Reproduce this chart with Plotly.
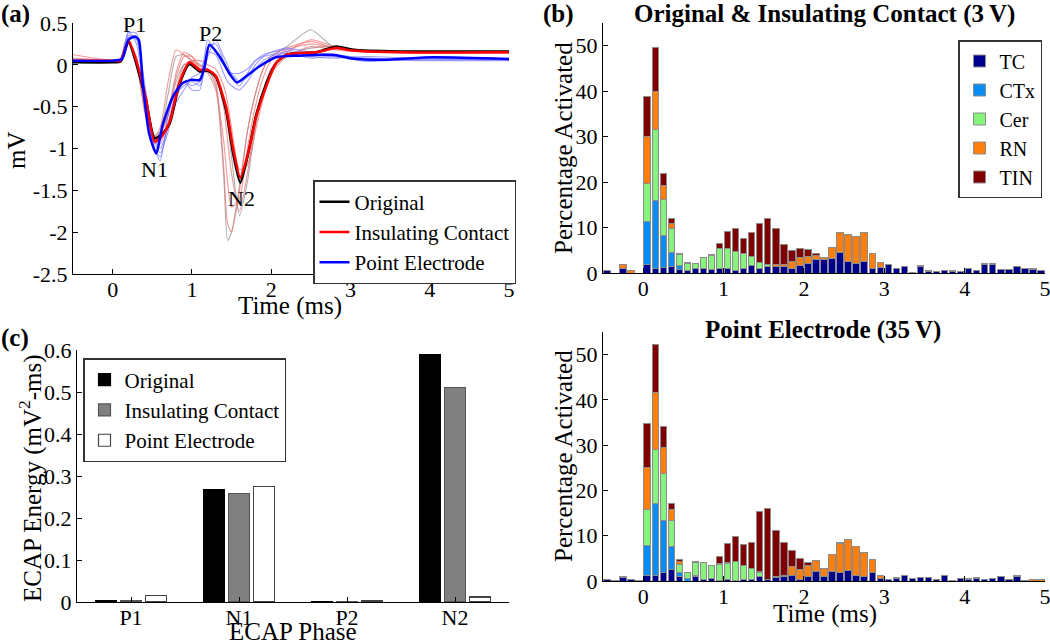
import numpy as np
import plotly.graph_objects as go

W, H = 1050, 644
FONT = "Liberation Serif"

# ---------------- Panel (a): ECAP waveforms ----------------
T_ORIG = [-0.5, 0.0, 0.1, 0.2, 0.32, 0.42, 0.53, 0.63, 0.72, 0.84, 0.97, 1.1, 1.2, 1.3,
          1.43, 1.52, 1.61, 1.71, 1.81, 1.94, 2.06, 2.19, 2.36, 2.57, 2.82, 3.03, 3.62, 5.0]
V_ORIG = [0.03, 0.03, 0.04, 0.28, -0.06, -0.42, -0.88, -0.82, -0.7, -0.24, 0.01, -0.08, -0.07, -0.14,
          -0.54, -1.06, -1.41, -1.06, -0.6, -0.22, 0.02, 0.12, 0.14, 0.15, 0.22, 0.18, 0.16, 0.16]
V_INS = [0.05, 0.05, 0.05, 0.29, -0.02, -0.40, -0.92, -0.84, -0.68, -0.22, 0.03, -0.06, -0.06, -0.13,
         -0.5, -1.0, -1.35, -1.05, -0.62, -0.25, 0.02, 0.12, 0.14, 0.15, 0.2, 0.17, 0.15, 0.15]
T_PT = [-0.5, 0.0, 0.12, 0.2, 0.28, 0.33, 0.38, 0.46, 0.55, 0.63, 0.76, 0.88, 0.99, 1.1,
        1.16, 1.22, 1.35, 1.47, 1.57, 1.68, 1.85, 2.06, 2.36, 2.78, 2.99, 3.41, 4.04, 5.0]
V_PT = [0.05, 0.05, 0.07, 0.3, 0.34, 0.3, -0.22, -0.82, -1.06, -0.72, -0.38, -0.22, -0.18, -0.18,
        -0.02, 0.24, 0.1, -0.1, -0.21, -0.14, -0.02, 0.09, 0.11, 0.12, 0.08, 0.06, 0.09, 0.07]

T_THIN = [-0.5, 0.0, 0.1, 0.15, 0.2, 0.3, 0.4, 0.5, 0.6, 0.7, 0.8, 0.9, 1.0, 1.1, 1.2, 1.3,
          1.4, 1.45, 1.5, 1.6, 1.7, 1.8, 1.9, 2.0, 2.2, 2.5, 2.8, 3.2, 4.0, 5.0]
RED_THIN = [
    [0.12, 0.05, 0.05, 0.2, 0.3, 0.05, -0.55, -0.9, -0.75, -0.2, 0.18, 0.12, 0.05, -0.02, -0.05, -0.2,
     -1.2, -1.9, -2.0, -1.5, -0.8, -0.35, -0.05, 0.1, 0.2, 0.28, 0.2, 0.15, 0.15, 0.15],
    [0.05, 0.04, 0.05, 0.18, 0.28, 0.1, -0.4, -0.85, -0.85, -0.55, -0.15, 0.1, 0.1, 0.0, -0.05, -0.15,
     -0.5, -0.9, -1.3, -1.75, -1.3, -0.7, -0.3, -0.05, 0.15, 0.3, 0.22, 0.16, 0.15, 0.15],
    [0.05, 0.04, 0.04, 0.15, 0.25, 0.0, -0.5, -0.95, -0.9, -0.7, -0.3, 0.0, 0.05, 0.05, 0.0, -0.05,
     -0.25, -0.45, -0.75, -1.25, -1.2, -0.8, -0.4, -0.1, 0.1, 0.22, 0.18, 0.15, 0.14, 0.14],
    [0.08, 0.05, 0.05, 0.2, 0.3, 0.0, -0.45, -0.8, -0.95, -0.6, -0.1, 0.15, 0.1, -0.05, -0.1, -0.3,
     -0.9, -1.4, -1.7, -1.6, -1.0, -0.5, -0.15, 0.05, 0.18, 0.25, 0.2, 0.17, 0.15, 0.15],
]
GRAY_THIN = [
    [0.05, 0.04, 0.05, 0.2, 0.28, 0.08, -0.5, -0.9, -0.8, -0.35, 0.1, 0.12, 0.05, 0.0, -0.05, -0.25,
     -1.3, -2.1, -2.0, -1.45, -0.8, -0.35, -0.05, 0.1, 0.22, 0.42, 0.2, 0.16, 0.15, 0.15],
    [0.04, 0.03, 0.04, 0.18, 0.26, 0.05, -0.45, -0.85, -0.8, -0.6, -0.2, 0.0, 0.0, -0.05, -0.08, -0.15,
     -0.4, -0.7, -1.1, -1.8, -1.4, -0.75, -0.35, -0.05, 0.12, 0.2, 0.22, 0.17, 0.16, 0.16],
]
BLUE_THIN = [
    [0.05, 0.05, 0.08, 0.25, 0.38, 0.38, -0.3, -0.9, -1.15, -0.6, -0.3, -0.2, -0.25, -0.2, 0.3, 0.15,
     0.0, -0.05, -0.1, -0.1, -0.05, 0.05, 0.12, 0.15, 0.18, 0.12, 0.1, 0.06, 0.05, 0.05],
    [0.04, 0.04, 0.06, 0.2, 0.33, 0.3, -0.2, -0.8, -1.0, -0.75, -0.45, -0.3, -0.15, -0.1, 0.15, 0.12,
     -0.1, -0.2, -0.25, -0.3, -0.2, -0.05, 0.05, 0.1, 0.14, 0.08, 0.1, 0.04, 0.08, 0.06],
    [0.06, 0.05, 0.07, 0.22, 0.35, 0.32, -0.25, -0.85, -1.05, -0.8, -0.4, -0.2, -0.3, -0.3, 0.2, 0.25,
     0.05, -0.05, -0.1, -0.2, -0.15, 0.0, 0.1, 0.15, 0.2, 0.15, 0.12, 0.08, 0.06, 0.07],
    [0.05, 0.05, 0.06, 0.22, 0.4, 0.25, -0.35, -0.95, -1.1, -0.7, -0.35, -0.25, -0.2, -0.25, 0.1, 0.3,
     0.1, 0.0, -0.15, -0.25, -0.1, 0.05, 0.1, 0.12, 0.16, 0.1, 0.08, 0.1, 0.07, 0.06],
]
PEAK_LABELS = ["P1", "N1", "P2", "N2"]
PEAK_T = [0.27, 0.53, 1.24, 1.62]
PEAK_V = [0.48, -1.25, 0.38, -1.6]

# ---------------- Panel (b): activation histograms ----------------
BIN_CENTERS = np.round(np.arange(-0.45, 5.0, 0.1), 2)
POPS = ["TC", "CTx", "Cer", "RN", "TIN"]
POP_COLORS = ["#00008F", "#0A8CF5", "#86F47C", "#FF7F0A", "#800000"]

A_TC = [0.5, 0, 0.9, 0, 0, 1.8, 0.9, 1.3, 1.5, 0.7, 0.6, 0.9, 0.9, 0.7, 1.1, 1.1, 0.6, 0.9, 1.7, 1.1,
        1.5, 1.5, 1.5, 0.9, 1.7, 2.2, 2.9, 2.9, 3.1, 4.6, 2.5, 2.2, 2.6, 0.9, 1.2, 1.8, 1.1, 1.5, 0.15, 1.5,
        0.4, 0.3, 0.5, 0.4, 0.4, 0.9, 0.5, 1.8, 1.8, 0.7, 0.7, 1.4, 0.9, 0.7, 0.5]
A_CTX = [0, 0, 0, 0, 0, 9.6, 15.1, 7.0, 3.0, 1.0] + [0] * 45
A_CER = [0, 0, 0, 0, 0, 8.4, 15.5, 7.8, 5.2, 2.3, 1.6, 1.1, 2.6, 3.1, 4.2, 4.4, 4.1, 3.3, 2.0, 1.2,
         0.3] + [0] * 34
A_RN = [0, 0, 0.9, 0.5, 0, 10.2, 8.5, 3.1, 1.1, 0.1, 0, 0, 0, 0, 0, 0, 0, 0.1, 0, 0,
        0, 0.3, 0.3, 1.7, 1.7, 1.5, 0.9, 0.6, 2.6, 4.3, 5.9, 5.9, 6.3, 3.3, 1.1, 0, 0, 0, 0, 0.2,
        0.2, 0, 0, 0.1, 0, 0, 0.1, 0, 0, 0, 0, 0, 0, 0.4, 0]
A_TIN = [0, 0, 0, 0, 0, 8.8, 9.6, 2.6, 1.3, 0.3, 0.1, 0, 0, 0.2, 1.2, 3.7, 5.0, 3.4, 5.2, 8.5,
         10.1, 7.9, 4.4, 2.4, 1.9, 1.4, 0.4, 0, 0, 0, 0, 0, 0, 0, 0, 0.1, 0, 0, 0, 0,
         0, 0, 0, 0, 0, 0, 0, 0.2, 0.2, 0, 0, 0, 0, 0, 0]

B_TC = [0.4, 0.2, 0.7, 0.3, 0.2, 1.2, 1.2, 1.8, 2.5, 1.0, 0, 0.9, 0.4, 0.5, 0.15, 0.3, 0.15, 0.4, 0.4, 0.9,
        0.4, 0.7, 0.9, 1.2, 0.4, 0.9, 2.0, 1.1, 2.1, 1.8, 2.3, 1.2, 1.1, 1.8, 0.5, 0.3, 0.5, 1.2, 0.6, 0.7,
        0.7, 0.3, 1.2, 0.15, 0.6, 0.3, 0.6, 0.3, 0.6, 1.0, 0.4, 1.0, 0.15, 0, 0]
B_CTX = [0, 0, 0, 0, 0, 6.6, 16.0, 11.5, 5.1, 0.8, 0.6, 0.3] + [0] * 43
B_CER = [0, 0, 0, 0, 0, 8.1, 11.8, 10.5, 5.7, 1.9, 1.2, 2.8, 3.6, 2.9, 3.55, 3.5, 4.05, 3.0, 2.3, 0.9] + [0] * 35
B_RN = [0, 0, 0.2, 0, 0, 9.2, 12.6, 5.7, 2.6, 0.5, 0, 0.2, 0, 0, 0.1, 0.2, 0, 0, 0, 0.2,
        0, 0.3, 0.3, 2.0, 2.1, 2.5, 2.6, 1.6, 3.8, 6.4, 6.8, 6.4, 5.1, 2.9, 0.7, 0, 0.2, 0, 0, 0,
        0, 0, 0.1, 0, 0, 0.3, 0.1, 0, 0, 0, 0, 0.2, 0, 0.3, 0.4]
B_TIN = [0, 0, 0, 0, 0, 9.7, 10.7, 4.7, 1.3, 0.5, 0, 0, 0, 0, 1.7, 4.2, 5.7, 4.6, 5.9, 13.4,
         15.7, 10.1, 7.2, 3.5, 2.4, 0.7, 0, 0, 0, 0.3] + [0] * 25

# ---------------- Panel (c): ECAP energy ----------------
PHASES = ["P1", "N1", "P2", "N2"]
E_ORIG = [0.003, 0.268, 0.002, 0.588]
E_INS = [0.003, 0.258, 0.002, 0.510]
E_PT = [0.016, 0.275, 0.004, 0.012]
CONFIGS = ["Original", "Insulating Contact", "Point Electrode"]
CONF_FILL = ["#000000", "#808080", "#FFFFFF"]
CONF_LINE = ["#000000", "#555555", "#444444"]


def px(x):
    return x / W


def py(y):
    return 1 - y / H


fig = go.Figure()

thin_style = dict(width=1.1, shape="spline", smoothing=0.6)
for v in GRAY_THIN:
    fig.add_trace(go.Scatter(x=T_THIN, y=v, mode="lines", line=dict(color="rgba(140,140,140,0.7)", **thin_style),
                             showlegend=False, hoverinfo="skip", xaxis="x", yaxis="y"))
for v in RED_THIN:
    fig.add_trace(go.Scatter(x=T_THIN, y=v, mode="lines", line=dict(color="rgba(238,110,110,0.7)", **thin_style),
                             showlegend=False, hoverinfo="skip", xaxis="x", yaxis="y"))
for v in BLUE_THIN:
    fig.add_trace(go.Scatter(x=T_THIN, y=v, mode="lines", line=dict(color="rgba(120,120,255,0.7)", **thin_style),
                             showlegend=False, hoverinfo="skip", xaxis="x", yaxis="y"))

fig.add_trace(go.Scatter(x=T_ORIG, y=V_ORIG, mode="lines", name="Original",
                         line=dict(color="black", width=2.5, shape="spline", smoothing=0.6),
                         xaxis="x", yaxis="y", legend="legend"))
fig.add_trace(go.Scatter(x=T_ORIG, y=V_INS, mode="lines", name="Insulating Contact",
                         line=dict(color="#FF0000", width=2.5, shape="spline", smoothing=0.6),
                         xaxis="x", yaxis="y", legend="legend"))
fig.add_trace(go.Scatter(x=T_PT, y=V_PT, mode="lines", name="Point Electrode",
                         line=dict(color="#0000FF", width=2.5, shape="spline", smoothing=0.6),
                         xaxis="x", yaxis="y", legend="legend"))

A_SERIES = [A_TC, A_CTX, A_CER, A_RN, A_TIN]
B_SERIES = [B_TC, B_CTX, B_CER, B_RN, B_TIN]
for name, col, vals in zip(POPS, POP_COLORS, A_SERIES):
    fig.add_trace(go.Bar(x=BIN_CENTERS, y=vals, name=name, width=0.08,
                         marker=dict(color=col, line=dict(color="#8C8C8C", width=1)),
                         xaxis="x2", yaxis="y2", legend="legend2"))
for name, col, vals in zip(POPS, POP_COLORS, B_SERIES):
    fig.add_trace(go.Bar(x=BIN_CENTERS, y=vals, name=name, width=0.08, showlegend=False,
                         marker=dict(color=col, line=dict(color="#8C8C8C", width=1)),
                         xaxis="x3", yaxis="y3"))

OFFSETS = [-0.23, 0.0, 0.23]
for name, fc, lc, vals, off in zip(CONFIGS, CONF_FILL, CONF_LINE, [E_ORIG, E_INS, E_PT], OFFSETS):
    fig.add_trace(go.Bar(x=[i + off for i in range(len(PHASES))], y=vals, name=name, width=0.19,
                         marker=dict(color=fc, line=dict(color=lc, width=1.2)),
                         xaxis="x4", yaxis="y4", legend="legend3"))

axis_common = dict(showline=True, linecolor="black", linewidth=1, ticks="inside", ticklen=5,
                   tickcolor="black", showgrid=False, zeroline=False, mirror=False, automargin=False,
                   ticklabeloverflow="allow",
                   tickfont=dict(family=FONT, size=22, color="black"))
xaxis_common = dict(axis_common, ticklabelstandoff=-4)

XB = [0, 1, 2, 3, 4, 5]
LEG = dict(bgcolor="white", bordercolor="#333", borderwidth=1.5,
           traceorder="normal", itemwidth=30)
fig.update_layout(
    width=W, height=H, margin=dict(l=0, r=0, t=0, b=0, autoexpand=False),
    paper_bgcolor="white", plot_bgcolor="white",
    barmode="stack", font=dict(family=FONT, color="black", size=22),
    xaxis=dict(domain=[px(73), px(509)], range=[-0.5, 5], tickvals=XB, anchor="y", **xaxis_common),
    yaxis=dict(domain=[py(274), py(23)], range=[-2.5, 0.5],
               tickvals=[-2.5, -2, -1.5, -1, -0.5, 0, 0.5],
               ticktext=["-2.5", "-2", "-1.5", "-1", "-0.5", "0", "0.5"], anchor="x", **axis_common),
    xaxis2=dict(domain=[px(603), px(1045)], range=[-0.5, 5], tickvals=XB, anchor="y2", **xaxis_common),
    yaxis2=dict(domain=[py(273), py(23)], range=[0, 55], tickvals=[0, 10, 20, 30, 40, 50], anchor="x2", **axis_common),
    xaxis3=dict(domain=[px(603), px(1045)], range=[-0.5, 5], tickvals=XB, anchor="y3", **xaxis_common),
    yaxis3=dict(domain=[py(581), py(332)], range=[0, 55], tickvals=[0, 10, 20, 30, 40, 50], anchor="x3", **axis_common),
    xaxis4=dict(domain=[px(77), px(509)], range=[-0.5, 3.5], tickvals=[0, 1, 2, 3], ticktext=PHASES,
                anchor="y4", **xaxis_common),
    yaxis4=dict(domain=[py(602), py(350)], range=[0, 0.6], tickvals=[0, 0.1, 0.2, 0.3, 0.4, 0.5, 0.6],
                ticktext=["0", "0.1", "0.2", "0.3", "0.4", "0.5", "0.6"], anchor="x4", **axis_common),
    legend=dict(x=px(313), y=py(180), xanchor="left", yanchor="top", font=dict(family=FONT, size=21), **LEG),
    legend2=dict(x=px(1042), y=py(40), xanchor="right", yanchor="top", font=dict(family=FONT, size=20), **LEG),
    legend3=dict(x=px(83), y=py(358), xanchor="left", yanchor="top", font=dict(family=FONT, size=21), **LEG),
)

ann = []


def paper_text(text, x, y, size=25, bold=False, angle=0):
    if bold:
        text = "<b>" + text + "</b>"
    ann.append(dict(text=text, x=px(x), y=py(y), xref="paper", yref="paper", showarrow=False,
                    xanchor="center", yanchor="middle", textangle=angle,
                    font=dict(family=FONT, size=size, color="black")))


paper_text("(a)", 15, 14, 25, bold=True)
paper_text("(b)", 558, 14, 25, bold=True)
paper_text("(c)", 15, 338, 25, bold=True)
paper_text("mV", 16, 150, 25, angle=-90)
paper_text("Time (ms)", 290, 306, 25)
paper_text("Percentage Activated", 563, 148, 25, angle=-90)
paper_text("Percentage Activated", 563, 456, 25, angle=-90)
paper_text("Time (ms)", 825, 614, 25)
paper_text("ECAP Energy (mV<sup>2</sup>-ms)", 30, 478, 25, angle=-90)
paper_text("ECAP Phase", 293, 631, 25)
paper_text("Original &amp; Insulating Contact (3\u2009V)", 824, 14, 25, bold=True)
paper_text("Point Electrode (35\u2009V)", 823, 330, 25, bold=True)

for lab, t, v in zip(PEAK_LABELS, PEAK_T, PEAK_V):
    ann.append(dict(text=lab, x=t, y=v, xref="x", yref="y", showarrow=False,
                    font=dict(family=FONT, size=22, color="black")))

fig.update_layout(annotations=ann)
fig.write_html("out.html", config={"displayModeBar": False},
               post_script="document.body.style.margin='0px';document.body.style.overflow='hidden';")
